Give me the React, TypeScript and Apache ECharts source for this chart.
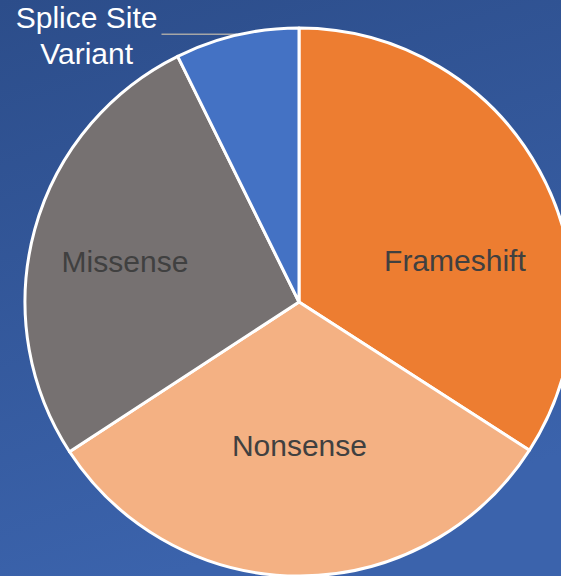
import React, { useEffect, useRef } from "react";
import * as echarts from "echarts";

const categories = ["Frameshift", "Nonsense", "Missense", "Splice Site Variant"];
const values = [34.1, 31.7, 26.9, 7.3];
const colors = ["#ED7D31", "#F4B183", "#767171", "#4472C4"];
// label nudges (px) for the inside labels, applied through labelLayout
const labelDx = [33, 0, -39, 0];
const labelDy = [26, 4, -4, 1];

export default function App() {
  const ref = useRef<HTMLDivElement>(null);
  useEffect(() => {
    if (!ref.current) return;
    const chart = echarts.init(ref.current, null, { renderer: "svg" });
    const data = categories.map((name, i) => {
      const item: any = { name, value: values[i], itemStyle: { color: colors[i] } };
      if (i === 3) {
        item.label = {
          position: "outside",
          formatter: "{c|Splice Site}\n{c|Variant}",
          distanceToLabelLine: 4,
          rich: {
            c: {
              align: "center",
              color: "#ffffff",
              fontSize: 30,
              lineHeight: 36,
              fontFamily: "'Liberation Sans', Arial, sans-serif",
            },
          },
        };
        item.labelLine = {
          show: true,
          length: 1,
          length2: 75,
          lineStyle: { color: "#A6A6A6", width: 1.5 },
        };
      }
      return item;
    });
    chart.setOption({
      animation: false,
      backgroundColor: {
        type: "linear",
        x: 0,
        y: 0,
        x2: 0.3,
        y2: 1,
        colorStops: [
          { offset: 0, color: "#2C4D8A" },
          { offset: 1, color: "#3B63AC" },
        ],
      },
      series: [
        {
          type: "pie",
          center: [299, 302],
          radius: 274,
          startAngle: 90,
          clockwise: true,
          avoidLabelOverlap: false,
          itemStyle: { borderColor: "#ffffff", borderWidth: 3 },
          label: {
            show: true,
            position: "inside",
            formatter: "{b}",
            color: "#404040",
            fontSize: 30,
            fontFamily: "'Liberation Sans', Arial, sans-serif",
          },
          labelLine: { show: false },
          labelLayout: (params: any) => ({
            dx: labelDx[params.dataIndex],
            dy: labelDy[params.dataIndex],
          }),
          data,
        },
      ],
    });
    return () => chart.dispose();
  }, []);
  return (
    <div
      ref={ref}
      style={{ position: "absolute", left: 0, top: 0, width: 561, height: 576 }}
    />
  );
}
